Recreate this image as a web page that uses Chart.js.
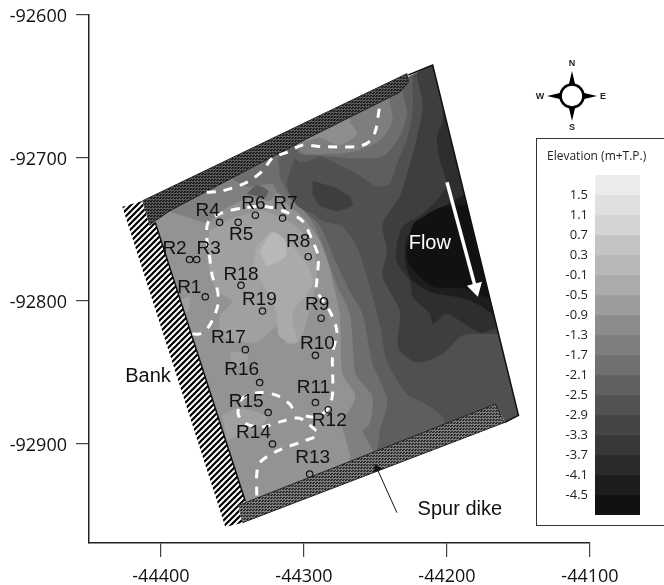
<!DOCTYPE html>
<html><head><meta charset="utf-8">
<style>
html,body{margin:0;padding:0;background:#fff;width:664px;height:585px;overflow:hidden}
#wrap{position:relative;width:664px;height:585px;overflow:hidden}
#map{position:absolute;left:0;top:0}
#keybox{position:absolute;left:536px;top:138px;width:160px;height:386px;border:1.5px solid #333;background:#fff}
#key{position:absolute;left:0;top:0}
</style>
<script src="https://cdn.jsdelivr.net/npm/chart.js@4"></script>
</head><body>
<div id="wrap"><canvas id="map" width="664" height="585"></canvas>
<div id="keybox"><canvas id="key" width="127" height="386"></canvas></div></div>
<script>
// Coordinates: easting = E0 + a, northing = N0 + b (metres)
const E0=-44000, N0=-92000;
const xTicks=[-44400,-44300,-44200,-44100];
const yTicks=[-92600,-92700,-92800,-92900];
const stationNames=['R1','R2','R3','R4','R5','R6','R7','R8','R9','R10','R11','R12','R13','R14','R15','R16','R17','R18','R19'];
const stationE=[-44369,-44380,-44375,-44359,-44346,-44334,-44315,-44297,-44288,-44292,-44292,-44283,-44296,-44322,-44325,-44331,-44341,-44344,-44329];
const stationN=[-92797,-92771,-92771,-92745,-92745,-92740,-92742,-92769,-92812,-92838,-92871,-92876,-92921,-92900,-92878,-92857,-92834,-92789,-92807];
const elevationBreaks=[1.5,1.1,0.7,0.3,-0.1,-0.5,-0.9,-1.3,-1.7,-2.1,-2.5,-2.9,-3.3,-3.7,-4.1,-4.5];
const elevationTop=1.9, elevationBottom=-4.9;
const bandColors=['#ececec','#e0e0e0','#d4d4d4','#c4c4c4','#b8b8b8','#ababab','#9c9c9c','#8c8c8c','#7e7e7e','#707070','#606060','#525252','#454545','#383838','#2a2a2a','#1d1d1d','#111111'];

const domain=[-404,-745,-408,-733,-210,-635,-150,-880,-159,-885,-166,-872,-341,-941];
const upperDike=[-413,-730,-228,-641,-227,-647,-233,-654,-303,-689,-394,-737,-404,-744,-408,-747];
const lowerDike=[-346,-943,-166,-872,-160,-885,-343,-955];
const bank=[-427,-734,-413,-730,-408,-747,-404,-745,-341,-940,-346,-943,-343,-955,-355,-958];
const bankEdge=[-404,-745,-341,-940];
const outerEdge=[-227,-642,-210,-635,-150,-880,-160,-885];

const iso1=[-401,-733,-396,-737,-382,-741,-368,-745,-354,-735,-338,-728,-324,-730,-319,-725,-312,-732,-301,-741,-289,-758,-283,-774,-280,-786,-275,-809,-273,-851,-264,-867,-273,-886,-268,-907,-268,-926,-100,-926,-100,-600,-401,-600];
const iso2=[-355,-695,-350,-714,-340,-720,-322,-718,-319,-723,-312,-728,-303,-733,-294,-745,-287,-761,-277,-789,-268,-809,-264,-851,-259,-858,-252,-867,-254,-886,-259,-891,-252,-905,-252,-926,-100,-926,-100,-600,-355,-600];
const iso3=[-317,-674,-317,-712,-310,-726,-299,-738,-289,-747,-278,-772,-268,-793,-259,-809,-252,-844,-242,-867,-243,-878,-247,-891,-247,-926,-100,-926,-100,-600,-317,-600];
const iso4=[-306,-674,-306,-698,-312,-718,-305,-733,-294,-739,-287,-744,-273,-748,-263,-762,-256,-783,-247,-816,-242,-842,-228,-865,-217,-871,-203,-881,-198,-898,-100,-898,-100,-600,-306,-600];
const iso5=[-221,-643,-217,-664,-222,-690,-228,-711,-233,-727,-245,-746,-242,-765,-245,-783,-233,-807,-234,-833,-221,-843,-203,-837,-189,-824,-166,-823,-130,-823,-130,-600,-221,-600];
const pool=[-294,-716,-280,-720,-268,-727,-266,-733,-277,-737,-289,-733,-294,-725];
const iso6=[-203,-675,-207,-685,-205,-702,-200,-718,-205,-727,-217,-739,-231,-748,-235,-760,-235,-773,-226,-786,-224,-797,-212,-809,-210,-816,-200,-809,-177,-822,-165,-819,-130,-819,-130,-660,-203,-660];
const iso7=[-184,-723,-201,-733,-217,-744,-228,-756,-229,-773,-224,-786,-210,-794,-189,-798,-177,-803,-166,-810,-130,-810,-130,-723];
const iso8=[-189,-733,-203,-734,-215,-740,-224,-747,-228,-769,-224,-778,-210,-790,-189,-791,-173,-797,-140,-797,-140,-733];
const nearDike1=[-224,-648,-224,-667,-228,-687,-235,-704,-240,-718,-249,-720,-263,-711,-277,-704,-289,-699,-296,-702,-303,-703,-310,-695,-310,-650,-224,-620];
const nearDike2=[-231,-654,-228,-669,-233,-685,-245,-699,-268,-700,-289,-698,-303,-697,-306,-684,-306,-650,-231,-620];
const nearDike3=[-240,-662,-238,-674,-247,-688,-263,-695,-277,-697,-303,-695,-303,-650,-240,-630];
const nearDike4=[-268,-675,-263,-683,-275,-691,-289,-686,-303,-688,-303,-650,-268,-650];
const ridge=[-366,-751,-354,-744,-333,-737,-322,-739,-305,-748,-294,-762,-291,-783,-298,-814,-303,-828,-312,-830,-319,-818,-331,-828,-340,-829,-357,-825,-359,-811,-350,-800,-361,-793,-366,-779,-368,-765];
const patchB=[-357,-880,-345,-875,-326,-881,-333,-889,-354,-898];
const patchC=[-352,-836,-340,-836,-340,-845,-350,-845];
const patchD=[-388,-800,-380,-797,-381,-807,-385,-809];
const ridgeCore=[-333,-762,-322,-751,-312,-758,-298,-774,-294,-788,-308,-809,-305,-829,-317,-825,-319,-809,-322,-800,-336,-776];
const ridgePeak=[-331,-765,-322,-752,-313,-758,-313,-769,-326,-776];
const hollowR6=[-340,-725,-333,-719,-325,-723,-327,-728];

const scour1=[-368,-724,-357,-723,-340,-717,-329,-709,-322,-700,-312,-696,-301,-691,-289,-692,-263,-692,-255,-689,-250,-681,-247,-664,-245,-661];
const scour2=[-378,-823,-373,-823,-366,-817,-360,-802,-361,-790,-364,-783,-366,-769,-368,-755,-367,-745,-359,-739,-343,-735,-326,-734,-312,-738,-301,-744,-294,-758,-290,-769,-291,-786,-291,-793,-282,-807,-277,-821,-280,-837,-280,-865,-283,-875,-291,-881,-301,-880];
const scour3=[-308,-875,-310,-872,-319,-866,-331,-864,-343,-868,-346,-879,-340,-886,-329,-888,-315,-884,-303,-882,-291,-891];
const scour4=[-333,-936,-333,-921,-331,-913,-319,-905,-303,-899,-292,-895];
const flowArrow=[-200,-717,-180,-791];
const dikeArrow=[-235,-948,-249,-917];

const notes=[['Flow',-212,-760,'#fff'],['Bank',-409,-853,'#111'],['Spur dike',-191,-946,'#111']];
// label displacement from its station, in pixels
const labelDx=[-16,-15,12,-12,3,-2,3,-10,-4,2,-2,1,3,-19,-22,-18,-17,0,-3];
const labelDy=[-9,-11,-11,-12,12,-11,-14,-15,-13,-12,-15,11,-16,-11,-11,-13,-12,-11,-11];

const pts=f=>{const o=[];for(let i=0;i<f.length;i+=2)o.push({x:E0+f[i],y:N0+f[i+1]});return o;};
function tile(w,h,paint){const c=document.createElement('canvas');c.width=w;c.height=h;paint(c.getContext('2d'));return document.createElement('canvas').getContext('2d').createPattern(c,'repeat');}
const upperFill=tile(3,3,g=>{g.fillStyle='#5a5a5a';g.fillRect(0,0,3,3);g.fillStyle='#1c1c1c';g.fillRect(0,0,2,1);g.fillRect(1,2,2,1);});
const lowerFill=tile(3,3,g=>{g.fillStyle='#7e7e7e';g.fillRect(0,0,3,3);g.fillStyle='#2a2a2a';g.fillRect(0,0,2,1);g.fillRect(1,2,2,1);});
const hatch=tile(6,6,g=>{g.fillStyle='#fff';g.fillRect(0,0,6,6);g.strokeStyle='#000';g.lineWidth=2.2;g.beginPath();g.moveTo(-1,7);g.lineTo(7,-1);g.moveTo(-1,1);g.lineTo(1,-1);g.moveTo(5,7);g.lineTo(7,5);g.stroke();});

const area=(f,color,tension=0.25)=>({data:pts(f),showLine:true,fill:'shape',backgroundColor:color,borderWidth:0,pointRadius:0,tension});
const line=(f,color,width,extra={})=>Object.assign({data:pts(f),showLine:true,fill:false,borderColor:color,borderWidth:width,pointRadius:0,tension:0},extra);

const contours=[
 area(domain,'#939393',0),
 area(iso1,'#808080'),area(iso2,'#6e6e6e'),area(hollowR6,'#5e5e5e'),area(iso3,'#5e5e5e'),area(iso4,'#505050'),
 area(iso5,'#3e3e3e'),area(pool,'#3e3e3e'),area(iso6,'#2e2e2e'),area(iso7,'#1d1d1d'),area(iso8,'#111111'),
 area(nearDike1,'#5e5e5e'),area(nearDike2,'#6e6e6e'),area(nearDike3,'#7e7e7e'),area(nearDike4,'#8e8e8e'),
 area(ridge,'#a0a0a0'),area(patchB,'#a0a0a0'),area(patchC,'#a0a0a0'),area(patchD,'#a0a0a0'),
 area(ridgeCore,'#aaaaaa'),area(ridgePeak,'#b8b8b8')
];
contours[contours.length-1].endClip=true;
const dash={borderDash:[9,8],tension:0.3};
const overlays=[
 Object.assign(area(bank,hatch,0),{}),
 Object.assign(area(upperDike,upperFill,0),{borderColor:'#222',borderWidth:1}),
 Object.assign(area(lowerDike,lowerFill,0),{borderColor:'#222',borderWidth:1}),
 line(bankEdge,'#111',1.5),line(outerEdge,'#111',1.5),
 line(scour1,'#fff',3,dash),line(scour2,'#fff',3,dash),line(scour3,'#fff',3,dash),line(scour4,'#fff',3,dash),
 line(flowArrow,'#fff',3.5,{pointRadius:[0,5.5],pointStyle:'triangle',rotation:165,pointBackgroundColor:'#fff',pointBorderColor:'#fff'}),
 line(dikeArrow,'#111',1,{pointRadius:[0,4],pointStyle:'triangle',rotation:-24,pointBackgroundColor:'#111',pointBorderColor:'#111'}),
 {data:stationE.map((x,i)=>({x,y:stationN[i]})),showLine:false,pointRadius:3.2,pointStyle:'circle',pointBorderColor:'#111',pointBackgroundColor:'rgba(0,0,0,0)',pointBorderWidth:1.2}
];
const datasets=contours.concat(overlays).reverse(); // Chart.js paints the first dataset last

const sansFont='"Liberation Sans", Arial, sans-serif';
const keyFont='"Open Sans", sans-serif';
const mapPlugin={id:'mapPlugin',
 beforeDatasetsDraw(chart){
  const {ctx,scales:{x,y}}=chart,p=pts(domain);
  ctx.save();ctx.beginPath();
  p.forEach((q,i)=>{const X=x.getPixelForValue(q.x),Y=y.getPixelForValue(q.y);i?ctx.lineTo(X,Y):ctx.moveTo(X,Y);});
  ctx.closePath();ctx.clip();
 },
 afterDatasetDraw(chart,args){
  if(chart.data.datasets[args.index].endClip)chart.ctx.restore();
 },
 afterDraw(chart){
  const {ctx,scales:{x,y}}=chart;
  ctx.save();
  ctx.textAlign='center';ctx.textBaseline='middle';
  ctx.font='19px '+sansFont;ctx.fillStyle='#111';
  stationNames.forEach((n,i)=>ctx.fillText(n,x.getPixelForValue(stationE[i])+labelDx[i],y.getPixelForValue(stationN[i])+labelDy[i]));
  ctx.font='20px '+sansFont;
  notes.forEach(([t,a,b,c])=>{ctx.fillStyle=c;ctx.fillText(t,x.getPixelForValue(E0+a),y.getPixelForValue(N0+b));});
  // compass
  const cx=572,cy=96;
  ctx.fillStyle='#000';
  [[0,-1],[0,1],[-1,0],[1,0]].forEach(([dx,dy])=>{
   ctx.beginPath();ctx.moveTo(cx+dx*25,cy+dy*25);
   ctx.lineTo(cx+dx*10-dy*3.5,cy+dy*10+dx*3.5);ctx.lineTo(cx+dx*10+dy*3.5,cy+dy*10-dx*3.5);ctx.closePath();ctx.fill();
  });
  ctx.beginPath();ctx.arc(cx,cy,11.5,0,Math.PI*2);ctx.fillStyle='#fff';ctx.fill();ctx.lineWidth=2.6;ctx.strokeStyle='#000';ctx.stroke();
  ctx.fillStyle='#222';ctx.font='bold 9px '+sansFont;ctx.textAlign='center';
  ctx.fillText('N',572,64);ctx.fillText('S',572,128);ctx.fillText('W',540,97);ctx.fillText('E',603,97);
  ctx.restore();
 }
};

new Chart(document.getElementById('map'),{type:'scatter',data:{datasets},plugins:[mapPlugin],options:{
 responsive:false,animation:false,devicePixelRatio:1,
 layout:{padding:{top:15,right:74,bottom:0,left:0}},
 plugins:{legend:{display:false},tooltip:{enabled:false},title:{display:false}},
 scales:{
  x:{type:'linear',min:-44450.3,max:-44100,afterFit:s=>{s.height=42;s.paddingLeft=0;s.paddingRight=0;},afterBuildTicks:s=>{s.ticks=xTicks.map(value=>({value}));},
   grid:{drawOnChartArea:false,tickLength:14,color:'#444',lineWidth:1.2},border:{color:'#222',width:1.5},
   ticks:{autoSkip:false,maxRotation:0,padding:9,color:'#111',font:{family:keyFont,size:18},callback:v=>String(v)}},
  y:{type:'linear',min:-92969.2,max:-92600,afterFit:s=>{s.width=89;s.paddingTop=0;s.paddingBottom=0;},afterBuildTicks:s=>{s.ticks=yTicks.map(value=>({value}));},
   grid:{drawOnChartArea:false,tickLength:13,color:'#444',lineWidth:1.2},border:{color:'#222',width:1.5},
   ticks:{autoSkip:false,padding:9,labelOffset:2,color:'#111',font:{family:keyFont,size:18},callback:v=>String(v)}}
 }
}});

const bandEdges=[elevationTop].concat(elevationBreaks,[elevationBottom]);
const keyPlugin={id:'keyTitle',afterDraw(chart){const c=chart.ctx;c.save();c.font='12px '+keyFont;c.fillStyle='#222';c.textAlign='left';c.textBaseline='middle';c.fillText('Elevation (m+T.P.)',10,18);c.restore();}};
new Chart(document.getElementById('key'),{type:'bar',plugins:[keyPlugin],
 data:{labels:[''],datasets:bandColors.map((col,i)=>({data:[[bandEdges[i+1],bandEdges[i]]],backgroundColor:col,borderWidth:0,barPercentage:1,categoryPercentage:1,grouped:false}))},
 options:{responsive:false,animation:false,devicePixelRatio:1,layout:{padding:{top:36,right:24,bottom:10,left:0}},
 plugins:{legend:{display:false},tooltip:{enabled:false}},
 scales:{x:{display:false},
  y:{type:'linear',min:elevationBottom,max:elevationTop,afterFit:s=>{s.width=58;s.paddingTop=0;s.paddingBottom=0;},afterBuildTicks:s=>{s.ticks=elevationBreaks.map(value=>({value}));},
   grid:{display:false,drawTicks:false},border:{display:false},
   ticks:{autoSkip:false,padding:7,color:'#222',font:{family:keyFont,size:13},callback:v=>v.toFixed(1)}}}
 }});
</script>
</body></html>
